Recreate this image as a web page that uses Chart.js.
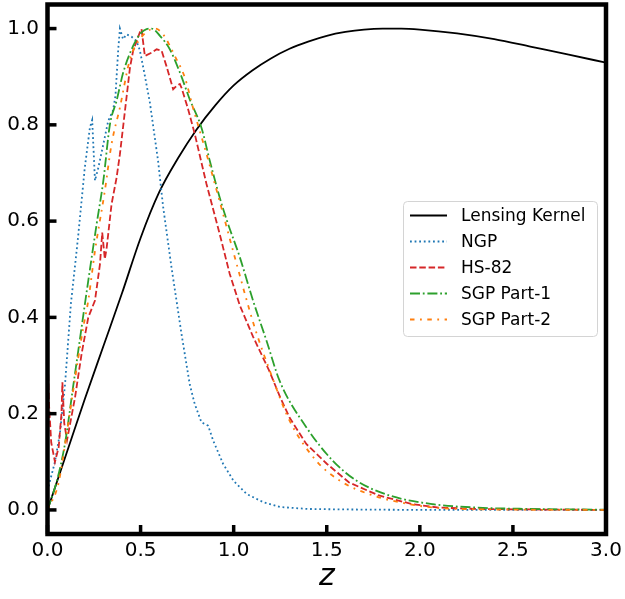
<!DOCTYPE html>
<html>
<head>
<meta charset="utf-8">
<script src="https://cdn.jsdelivr.net/npm/chart.js@4.4.0/dist/chart.umd.min.js"></script>
<style>
  body { margin: 0; background: #fff; }
</style>
</head>
<body>
<canvas id="myChart" width="625" height="599"></canvas>
<script>
const ctx = document.getElementById('myChart');

// values
const kernelZ = [0, 0.1, 0.2, 0.3, 0.4, 0.5, 0.6, 0.7, 0.8, 0.9, 1.0, 1.1, 1.2, 1.3, 1.4, 1.5, 1.6, 1.7, 1.8, 1.9, 2.0, 2.2, 2.4, 2.6, 2.8, 3.0]
const kernelY = [0, 0.115, 0.23, 0.34, 0.45, 0.565, 0.66, 0.73, 0.79, 0.84, 0.882, 0.913, 0.938, 0.958, 0.973, 0.985, 0.993, 0.998, 1.0, 1.0, 0.998, 0.99, 0.978, 0.962, 0.946, 0.929]

const ngpZ = [0.0, 0.04, 0.067, 0.094, 0.126, 0.15, 0.165, 0.2, 0.228, 0.24, 0.255, 0.273, 0.3, 0.326, 0.352, 0.365, 0.38, 0.389, 0.406, 0.425, 0.452, 0.478, 0.496, 0.523, 0.55, 0.594, 0.621, 0.666, 0.72, 0.764, 0.791, 0.827, 0.863, 0.89, 0.943, 1.0, 1.07, 1.16, 1.25, 1.4, 1.6, 2.0, 2.5, 3.0]
const ngpY = [0.04, 0.1, 0.16, 0.26, 0.43, 0.515, 0.57, 0.71, 0.795, 0.81, 0.684, 0.711, 0.76, 0.808, 0.83, 0.86, 0.957, 1.0, 0.978, 0.988, 0.983, 0.974, 0.955, 0.902, 0.846, 0.725, 0.63, 0.504, 0.365, 0.261, 0.22, 0.182, 0.175, 0.144, 0.096, 0.06, 0.033, 0.016, 0.006, 0.002, 0.001, 0, 0, 0]

const hsZ = [0.0, 0.008, 0.02, 0.04, 0.06, 0.075, 0.08, 0.09, 0.105, 0.121, 0.148, 0.183, 0.219, 0.255, 0.282, 0.294, 0.308, 0.318, 0.344, 0.371, 0.389, 0.416, 0.443, 0.46, 0.48, 0.496, 0.505, 0.523, 0.559, 0.586, 0.613, 0.639, 0.675, 0.693, 0.711, 0.72, 0.755, 0.791, 0.854, 0.925, 0.979, 1.033, 1.104, 1.19, 1.25, 1.3, 1.39, 1.5, 1.62, 1.78, 1.96, 2.1, 2.3, 2.6, 3.0]
const hsY = [0.34, 0.22, 0.14, 0.1, 0.13, 0.2, 0.265, 0.18, 0.145, 0.178, 0.234, 0.324, 0.4, 0.435, 0.511, 0.576, 0.521, 0.545, 0.635, 0.69, 0.739, 0.829, 0.919, 0.954, 0.975, 0.992, 0.999, 0.943, 0.95, 0.957, 0.954, 0.922, 0.874, 0.881, 0.885, 0.877, 0.833, 0.781, 0.677, 0.573, 0.49, 0.425, 0.36, 0.29, 0.234, 0.192, 0.137, 0.096, 0.057, 0.03, 0.012, 0.005, 0.002, 0.001, 0.0]

const sgp1Z = [0, 0.05, 0.094, 0.138, 0.165, 0.201, 0.264, 0.3, 0.335, 0.371, 0.407, 0.46, 0.5, 0.532, 0.559, 0.604, 0.657, 0.711, 0.764, 0.827, 0.872, 0.925, 0.961, 1.033, 1.104, 1.176, 1.247, 1.39, 1.533, 1.659, 1.837, 2.07, 2.3, 2.6, 3.0]
const sgp1Y = [0, 0.06, 0.138, 0.257, 0.33, 0.428, 0.594, 0.684, 0.8, 0.85, 0.909, 0.964, 0.99, 0.999, 1.0, 0.985, 0.957, 0.909, 0.853, 0.794, 0.725, 0.649, 0.604, 0.525, 0.435, 0.352, 0.268, 0.172, 0.102, 0.061, 0.03, 0.012, 0.005, 0.002, 0.0005]

const sgp2Z = [0, 0.058, 0.103, 0.138, 0.192, 0.219, 0.255, 0.308, 0.344, 0.389, 0.443, 0.5, 0.577, 0.621, 0.684, 0.738, 0.782, 0.85, 0.934, 1.006, 1.113, 1.203, 1.301, 1.444, 1.569, 1.748, 1.891, 2.07, 2.4, 3.0]
const sgp2Y = [0, 0.054, 0.158, 0.248, 0.379, 0.435, 0.538, 0.663, 0.76, 0.836, 0.936, 0.98, 1.0, 0.988, 0.943, 0.898, 0.835, 0.745, 0.628, 0.525, 0.379, 0.28, 0.185, 0.102, 0.061, 0.03, 0.016, 0.005, 0.001, 0.0]

const seriesLabels = ['Lensing Kernel', 'NGP', 'HS-82', 'SGP Part-1', 'SGP Part-2']

const xTicks = [0, 0.5, 1.0, 1.5, 2.0, 2.5, 3.0]
const yTicks = [0, 0.2, 0.4, 0.6, 0.8, 1.0]


function toPoints(xs, ys){
  return xs.map((x, i) => ({x: x, y: ys[i]}))
}

function makeDataset(label, xs, ys, color, dash, order, smooth){
  return {
    label: label,
    data: toPoints(xs, ys),
    borderColor: color,
    backgroundColor: color,
    borderWidth: 1.8,
    borderDash: dash,
    borderCapStyle: 'butt',
    pointRadius: 0,
    fill: false,
    order: order,
    cubicInterpolationMode: smooth ? 'monotone' : 'default',
    tension: 0,
  }
}

let datasets = [
  makeDataset(seriesLabels[0], kernelZ, kernelY, '#000000', [], 5, true),
  makeDataset(seriesLabels[1], ngpZ, ngpY, '#1f77b4', [1.8, 2.8], 4, false),
  makeDataset(seriesLabels[2], hsZ, hsY, '#d62728', [6.5, 2.8], 3, false),
  makeDataset(seriesLabels[3], sgp1Z, sgp1Y, '#2ca02c', [10, 2.8, 1.8, 2.8], 2, true),
  makeDataset(seriesLabels[4], sgp2Z, sgp2Y, '#ff7f0e', [4.5, 5.5, 1.8, 5.5], 1, true),
]

// spines + inward ticks, matplotlib style
const frameTicks = {
  id: 'frameTicks',
  afterDraw(chart){
    const c = chart.ctx
    const a = chart.chartArea
    const xs = chart.scales.x
    const ys = chart.scales.y
    c.save()
    c.strokeStyle = '#000'
    c.lineWidth = 3.5
    c.setLineDash([])
    xTicks.forEach(v => {
      let px = xs.getPixelForValue(v)
      c.beginPath()
      c.moveTo(px, a.bottom)
      c.lineTo(px, a.bottom - 9)
      c.stroke()
    })
    yTicks.forEach(v => {
      let py = ys.getPixelForValue(v)
      c.beginPath()
      c.moveTo(a.left, py)
      c.lineTo(a.left + 9, py)
      c.stroke()
    })
    c.lineWidth = 4.5
    c.strokeRect(a.left, a.top, a.right - a.left, a.bottom - a.top)
    c.restore()
  }
}

const boxLegend = {
  id: 'boxLegend',
  afterDraw(chart){
    const c = chart.ctx
    c.save()
    c.beginPath()
    c.roundRect(403.5, 201.5, 194, 135, 4)
    c.fillStyle = 'rgba(255,255,255,0.8)'
    c.fill()
    c.strokeStyle = '#d4d4d4'
    c.lineWidth = 1
    c.stroke()
    c.font = '17px "DejaVu Sans"'
    c.textBaseline = 'middle'
    c.fillStyle = '#000'
    chart.data.datasets.forEach((ds, i) => {
      let y = 215.5 + i * 26
      c.beginPath()
      c.strokeStyle = ds.borderColor
      c.lineWidth = ds.borderWidth
      c.setLineDash(ds.borderDash)
      c.moveTo(410, y)
      c.lineTo(447, y)
      c.stroke()
      c.fillText(ds.label, 461, y + 1)
    })
    c.restore()
  }
}

new Chart(ctx, {
  type: 'line',
  data: { datasets: datasets },
  options: {
    responsive: false,
    animation: false,
    devicePixelRatio: 1,
    layout: { padding: { top: 4.5, right: 19, left: 0, bottom: 0 } },
    plugins: { legend: { display: false }, tooltip: { enabled: false } },
    scales: {
      x: {
        type: 'linear',
        min: 0,
        max: 3,
        grid: { display: false, drawTicks: false },
        border: { display: false },
        afterBuildTicks: s => { s.ticks = xTicks.map(v => ({value: v})) },
        afterFit: s => { s.height = 65; s.paddingLeft = 0; s.paddingRight = 0 },
        ticks: {
          padding: 5,
          color: '#000',
          font: { family: 'DejaVu Sans', size: 20 },
          callback: v => v.toFixed(1),
          maxRotation: 0,
        },
        title: {
          display: true,
          text: 'z',
          color: '#000',
          font: { family: 'DejaVu Sans', size: 30, style: 'italic' },
          padding: { top: 0, bottom: 4 },
        },
      },
      y: {
        type: 'linear',
        min: -0.05,
        max: 1.05,
        grid: { display: false, drawTicks: false },
        border: { display: false },
        afterBuildTicks: s => { s.ticks = yTicks.map(v => ({value: v})) },
        afterFit: s => { s.width = 47.5; s.paddingTop = 0; s.paddingBottom = 0 },
        ticks: {
          padding: 8.5,
          color: '#000',
          font: { family: 'DejaVu Sans', size: 20 },
          callback: v => v.toFixed(1),
        },
      },
    },
  },
  plugins: [frameTicks, boxLegend],
})
</script>
</body>
</html>
